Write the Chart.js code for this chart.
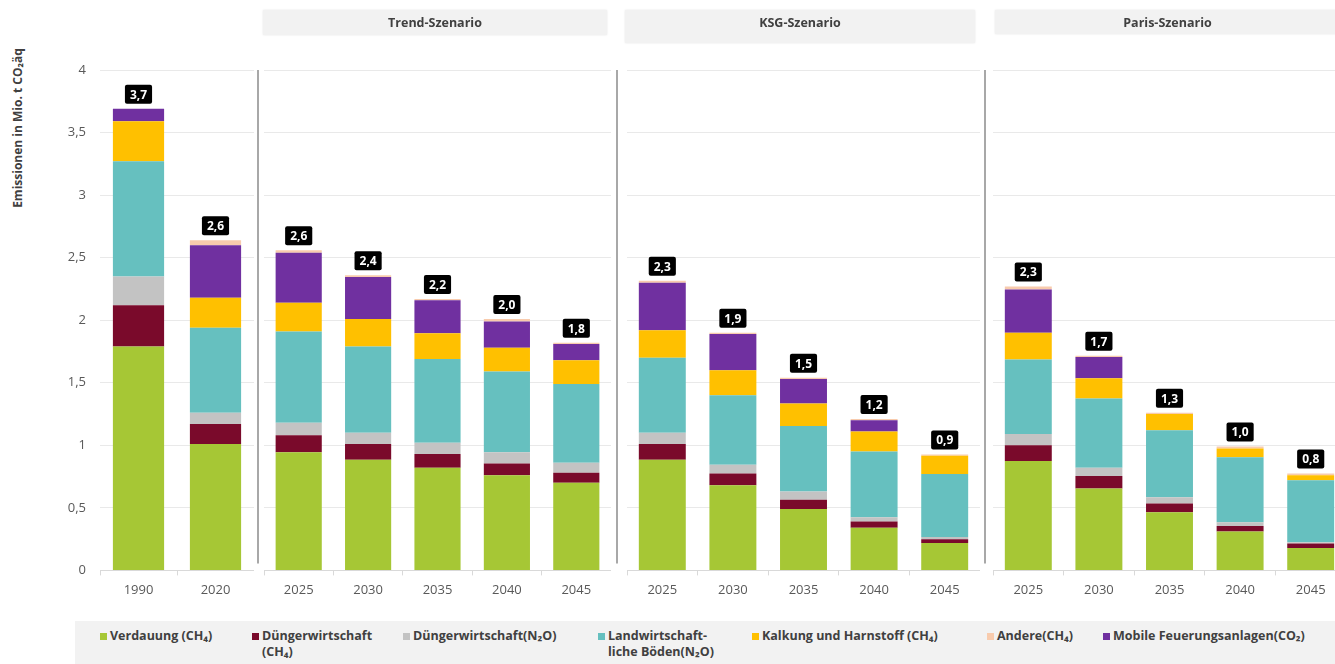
<!DOCTYPE html>
<html lang="de">
<head>
<meta charset="utf-8">
<title>Emissionen Landwirtschaft</title>
<script src="https://cdn.jsdelivr.net/npm/chart.js@4.4.1/dist/chart.umd.min.js"></script>
<style>
  body { margin: 0; width: 1335px; height: 664px; overflow: hidden; background: #fff; position: relative; font-family: 'Open Sans', sans-serif; }
  canvas { position: absolute; top: 0; }
  .kopf { position: absolute; top: 10px; background: #f2f2f2; box-shadow: 0 0 2px rgba(0,0,0,0.10); font-weight: bold; font-size: 12.5px; color: #404040; text-align: center; line-height: 25px; }
  .ytitel { position: absolute; left: -82px; top: 120px; width: 200px; height: 16px; line-height: 16px; text-align: center; transform: rotate(-90deg); font-weight: bold; font-size: 12px; color: #404040; white-space: nowrap; }
  #legende { position: absolute; left: 75px; top: 621px; width: 1260px; height: 43px; background: #f2f2f2; }
  .eintrag { position: absolute; top: 7px; font-weight: bold; font-size: 12.5px; line-height: 16px; color: #404040; white-space: pre; }
  .eintrag i { position: absolute; left: 0; top: 5px; width: 7px; height: 7px; }
  .eintrag span { display: block; margin-left: 10px; }
</style>
</head>
<body>
<div class="ytitel">Emissionen in Mio. t CO₂äq</div>
<div id="legende"></div>

<script>
// Jahre aller vier Bereiche nacheinander
const jahre = ['1990', '2020',
  '2025', '2030', '2035', '2040', '2045',
  '2025', '2030', '2035', '2040', '2045',
  '2025', '2030', '2035', '2040', '2045'];

const szenarien = ['', 'Trend-Szenario', 'KSG-Szenario', 'Paris-Szenario'];
const szenarioBereich = [[0, 2], [2, 7], [7, 12], [12, 17]];

// Emissionen in Mio. t CO2-Äquivalent
const verdauung  = [1.79, 1.01, 0.945, 0.885, 0.82, 0.76, 0.70, 0.885, 0.68, 0.49, 0.34, 0.22, 0.875, 0.655, 0.465, 0.31, 0.18];
const duengerCH4 = [0.33, 0.16, 0.135, 0.125, 0.11, 0.095, 0.08, 0.125, 0.095, 0.075, 0.05, 0.03, 0.125, 0.10, 0.07, 0.045, 0.035];
const duengerN2O = [0.23, 0.09, 0.10, 0.09, 0.09, 0.09, 0.08, 0.09, 0.07, 0.065, 0.035, 0.016, 0.09, 0.065, 0.05, 0.03, 0.01];
const boeden     = [0.92, 0.68, 0.73, 0.69, 0.67, 0.645, 0.63, 0.60, 0.555, 0.525, 0.525, 0.505, 0.595, 0.555, 0.535, 0.52, 0.495];
const kalkung    = [0.32, 0.24, 0.23, 0.22, 0.205, 0.19, 0.19, 0.22, 0.20, 0.18, 0.16, 0.145, 0.215, 0.16, 0.13, 0.07, 0.04];
const andere     = [0, 0.04, 0.02, 0.015, 0.01, 0.02, 0.01, 0.015, 0.01, 0.01, 0.01, 0.01, 0.025, 0.01, 0.01, 0.015, 0.015];
const mobile     = [0.10, 0.42, 0.40, 0.335, 0.265, 0.21, 0.13, 0.38, 0.29, 0.195, 0.09, 0, 0.345, 0.17, 0, 0, 0];

// Reihenfolge wie in der Legende
const serien = [
  { name: 'Verdauung (CH₄)',                  werte: verdauung,  farbe: '#a6c735', stapel: 0 },
  { name: 'Düngerwirtschaft\n(CH₄)',          werte: duengerCH4, farbe: '#7a0a2b', stapel: 1 },
  { name: 'Düngerwirtschaft(N₂O)',            werte: duengerN2O, farbe: '#c3c3c3', stapel: 2 },
  { name: 'Landwirtschaft-\nliche Böden(N₂O)', werte: boeden,     farbe: '#66c0bf', stapel: 3 },
  { name: 'Kalkung und Harnstoff (CH₄)',      werte: kalkung,    farbe: '#ffc000', stapel: 4 },
  { name: 'Andere(CH₄)',                      werte: andere,     farbe: '#f8cbad', stapel: 6 },
  { name: 'Mobile Feuerungsanlagen(CO₂)',     werte: mobile,     farbe: '#7030a0', stapel: 5 },
];

// Lage der vier Teildiagramme
const panels = [
  { left: 0,   width: 254, yBreite: 100 },
  { left: 257, width: 354, yBreite: 7 },
  { left: 616, width: 364, yBreite: 11 },
  { left: 984, width: 362, yBreite: 9 },
];
const koepfe = [null,
  { left: 263, width: 344, height: 25 },
  { left: 625, width: 350, height: 33 },
  { left: 995, width: 345, height: 24 }];
const legendeX = [25, 177, 328, 523, 677, 912, 1028];

Chart.defaults.font.family = "'Open Sans', sans-serif";

const summenLabel = {
  id: 'summenLabel',
  afterDatasetsDraw(chart) {
    const ctx = chart.ctx;
    const meta = chart.getDatasetMeta(0);
    ctx.save();
    ctx.font = "bold 12px 'Open Sans', sans-serif";
    meta.data.forEach((bar, i) => {
      const summe = chart.data.datasets.reduce((s, ds) => s + ds.data[i], 0);
      const text = (Math.round(summe * 10) / 10).toFixed(1).replace('.', ',');
      const y = chart.scales.y.getPixelForValue(summe);
      const w = ctx.measureText(text).width + 10, h = 19;
      ctx.fillStyle = '#000';
      ctx.beginPath();
      ctx.roundRect(bar.x - w / 2, y - 5 - h, w, h, 2);
      ctx.fill();
      ctx.fillStyle = '#fff';
      ctx.textAlign = 'center';
      ctx.textBaseline = 'middle';
      ctx.fillText(text, bar.x, y - 5 - h / 2 + 1);
    });
    ctx.restore();
  }
};

const trennlinie = {
  id: 'trennlinie',
  afterDraw(chart) {
    if (!chart.options.plugins.trennlinie.zeigen) return;
    const ctx = chart.ctx, a = chart.chartArea;
    const x = chart.scales.y.left + 1;
    ctx.save();
    ctx.strokeStyle = '#a8a8a8';
    ctx.lineWidth = 2;
    ctx.beginPath();
    ctx.moveTo(x, a.top);
    ctx.lineTo(x, a.bottom - 7);
    ctx.stroke();
    ctx.restore();
  }
};

const stapelFolge = serien.slice().sort((a, b) => a.stapel - b.stapel);

panels.forEach((p, k) => {
  const [von, bis] = szenarioBereich[k];
  const canvas = document.createElement('canvas');
  canvas.width = p.width;
  canvas.height = 620;
  canvas.style.left = p.left + 'px';
  document.body.appendChild(canvas);

  new Chart(canvas, {
    type: 'bar',
    data: {
      labels: jahre.slice(von, bis),
      datasets: stapelFolge.map(s => ({
        label: s.name,
        data: s.werte.slice(von, bis),
        backgroundColor: s.farbe,
        borderWidth: 0,
        categoryPercentage: 1,
        barPercentage: 0.665,
      }))
    },
    options: {
      responsive: false,
      animation: false,
      devicePixelRatio: 1,
      layout: { padding: { top: 70, right: 0, bottom: 15, left: 0 } },
      plugins: {
        legend: { display: false },
        tooltip: { enabled: false },
        trennlinie: { zeigen: k > 0 },
      },
      scales: {
        x: {
          stacked: true,
          grid: { drawOnChartArea: false, tickLength: 5, color: '#d9d9d9' },
          border: { color: '#d9d9d9' },
          ticks: { color: '#595959', font: { size: 13 }, padding: 7, maxRotation: 0 },
        },
        y: {
          stacked: true,
          min: 0,
          max: 4,
          grid: { color: '#e9e9e9', drawTicks: false },
          border: { display: false },
          ticks: {
            display: k === 0,
            stepSize: 0.5,
            padding: 14,
            color: '#595959',
            font: { size: 13 },
            callback: v => String(v).replace('.', ','),
          },
          afterFit: s => { s.width = p.yBreite; },
        }
      }
    },
    plugins: [summenLabel, trennlinie]
  });

  if (szenarien[k]) {
    const kopf = document.createElement('div');
    kopf.className = 'kopf';
    kopf.style.left = koepfe[k].left + 'px';
    kopf.style.width = koepfe[k].width + 'px';
    kopf.style.height = koepfe[k].height + 'px';
    kopf.textContent = szenarien[k];
    document.body.appendChild(kopf);
  }
});

// Legende in eigener Reihenfolge
const legende = document.getElementById('legende');
serien.forEach((s, i) => {
  const e = document.createElement('div');
  e.className = 'eintrag';
  e.style.left = legendeX[i] + 'px';
  e.innerHTML = '<i style="background:' + s.farbe + '"></i><span></span>';
  e.querySelector('span').textContent = s.name;
  legende.appendChild(e);
});
</script>
</body>
</html>
